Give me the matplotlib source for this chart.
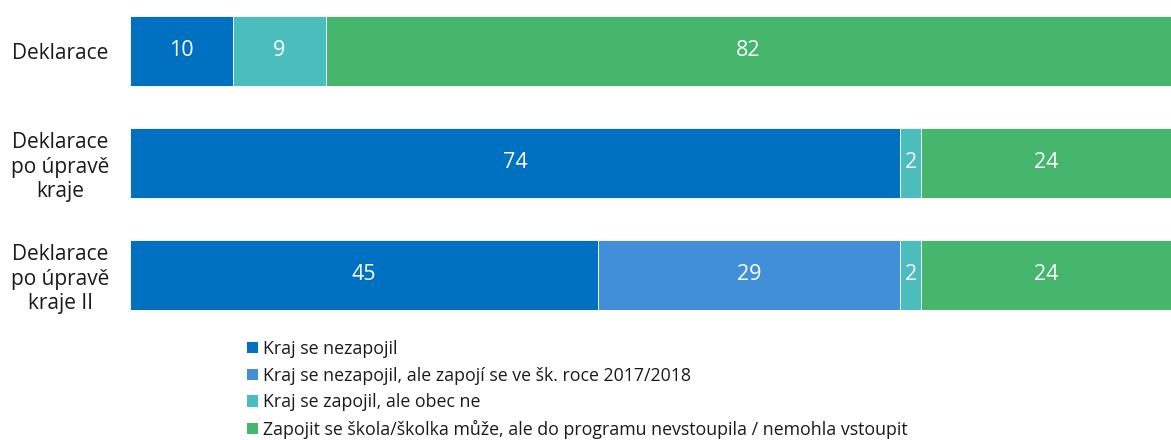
import matplotlib.pyplot as plt
import numpy as np
from matplotlib.patches import Patch

plt.rcParams['font.family'] = ['Open Sans', 'DejaVu Sans']

# rows, top to bottom
categories = ["Deklarace", "Deklarace\npo úpravě\nkraje", "Deklarace\npo úpravě\nkraje II"]
series_names = [
    "Kraj se nezapojil",
    "Kraj se nezapojil, ale zapojí se ve šk. roce 2017/2018",
    "Kraj se zapojil, ale obec ne",
    "Zapojit se škola/školka může, ale do programu nevstoupila / nemohla vstoupit",
]
nezapojil = [10, 74, 45]
zapoji_2017 = [0, 0, 29]
obec_ne = [9, 2, 2]
muze_nevstoupila = [82, 24, 24]
colors = ["#0070C0", "#418FD8", "#4BBDBD", "#45B66C"]

series = np.array([nezapojil, zapoji_2017, obec_ne, muze_nevstoupila], dtype=float)
shares = series / series.sum(axis=0) * 100  # 100% stacked

fig = plt.figure(figsize=(11.71, 4.40), dpi=100)
ax = fig.add_axes([130 / 1171, 1 - 310 / 440, 1 - 130 / 1171, (310 - 16) / 440])

y = np.arange(len(categories))
left = np.zeros(len(categories))
for vals, shr, col in zip(series, shares, colors):
    bars = ax.barh(y, shr, left=left, height=0.625, color=col, edgecolor="white", linewidth=0.6)
    for b, v in zip(bars, vals):
        if v > 0:
            ax.text(b.get_x() + b.get_width() / 2, b.get_y() + b.get_height() / 2, f"{v:.0f}",
                    ha="center", va="center", color="white", fontsize=15.5)
    left += shr

ax.set_xlim(0, 100)
ax.set_ylim(2 + 0.3125, -0.3125)
ax.set_yticks(y)
ax.set_yticklabels(categories, fontsize=15, color="#1a1a1a", linespacing=1.2, ha="center")
ax.tick_params(axis="y", length=0, pad=50)
ax.set_xticks([])
for s in ax.spines.values():
    s.set_visible(False)

handles = [Patch(facecolor=c) for c in colors]
fig.legend(handles, series_names, loc="upper left", bbox_to_anchor=(240 / 1171, 1 - 333 / 440),
           frameon=False, fontsize=12.8, handlelength=0.6, handleheight=0.6, handletextpad=0.3,
           labelspacing=0.48, borderaxespad=0, labelcolor="#1a1a1a")

fig.savefig("out.png", dpi=100)
